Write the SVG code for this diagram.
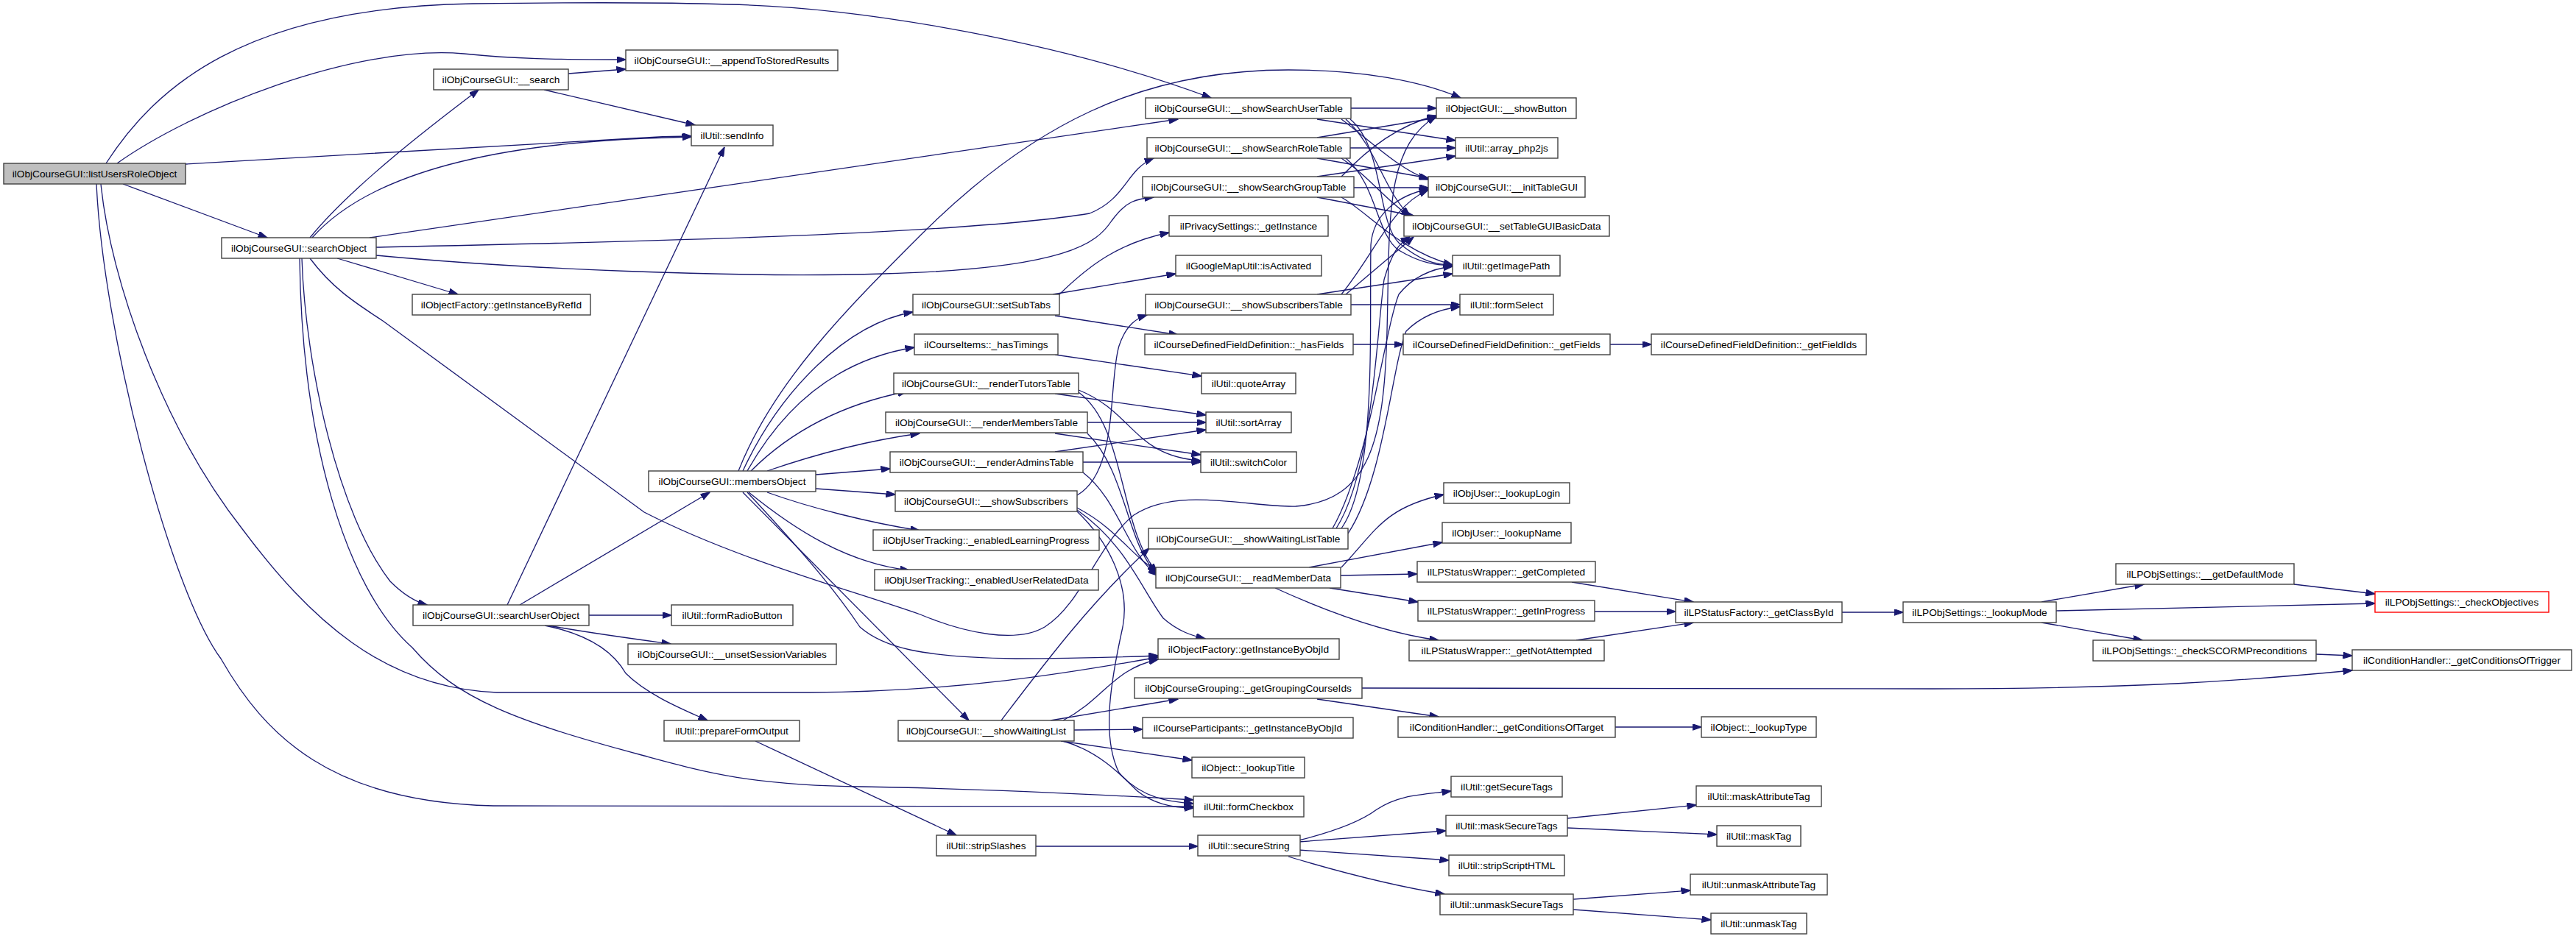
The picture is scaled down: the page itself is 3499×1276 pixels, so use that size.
<svg xmlns="http://www.w3.org/2000/svg" width="3499" height="1276" viewBox="0 0 3499 1276">
<defs>
<marker id="ah" markerWidth="13" markerHeight="9" refX="12.5" refY="4.5" orient="auto" markerUnits="userSpaceOnUse"><path d="M0,0 L13,4.5 L0,9 z" fill="#191970" stroke="#191970" stroke-width="1"/></marker>
<style>
.n rect{fill:#ffffff;stroke:#404040;stroke-width:1.4}
.n text{font-family:"Liberation Sans",Arial,sans-serif;font-size:13.7px;text-anchor:middle;fill:#000000}
.root rect{fill:#bfbfbf}
.red rect{stroke:#ff0000}
.e path{fill:none;stroke:#191970;stroke-width:1.3;marker-end:url(#ah)}
</style>
</defs>
<rect x="0" y="0" width="3499" height="1276" fill="#ffffff"/>
<g id="edges" class="e">
<path d="M144,222 C210,120 330,10 642,5 C800,3 900,3 990,6 C1180,10 1450,60 1645,133"/>
<path d="M159,222 C260,150 480,60 630,73 C700,80 750,81 850,81"/>
<path d="M252,223 L860,188 Q900,185 939,185"/>
<path d="M167,250 L363,323"/>
<path d="M137,250 C150,380 220,580 330,720 C420,840 520,935 675,941 L1100,941 C1300,940 1450,915 1573,893"/>
<path d="M131,250 C140,450 230,800 300,895 C360,1000 450,1090 670,1095 L1621,1096"/>
<path d="M421,323 C480,250 600,160 650,122"/>
<path d="M424,323 C480,260 600,200 875,188 L939,186"/>
<path d="M502,323 L1600,162"/>
<path d="M511,336 C800,330 1300,320 1480,290 C1530,270 1530,230 1567,215"/>
<path d="M511,347 C700,365 1000,378 1200,372 C1450,365 1490,330 1510,300 C1530,272 1545,270 1567,268"/>
<path d="M458,351 L622,400"/>
<path d="M410,351 C415,500 460,700 530,790 C550,810 565,818 580,822"/>
<path d="M407,351 C410,600 470,800 560,880 C620,950 700,980 875,1027 C960,1050 1020,1067 1171,1069 C1350,1072 1500,1080 1621,1087"/>
<path d="M421,351 C450,390 480,410 520,436 L875,696 C1000,760 1150,800 1250,835 C1310,860 1380,875 1419,852 C1470,820 1490,740 1540,700 C1600,660 1700,690 1760,688 C1860,680 1880,600 1884,450 C1888,300 1880,200 1951,158"/>
<path d="M772,100 L850,94"/>
<path d="M739,122 L944,170"/>
<path d="M689,822 L984,200"/>
<path d="M706,822 L964,669"/>
<path d="M800,836 L912,836"/>
<path d="M745,850 C800,860 860,868 911,875"/>
<path d="M740,850 C790,860 830,880 850,915 C880,945 930,965 961,979"/>
<path d="M1026,1007 L1299,1135"/>
<path d="M1407,1150 L1627,1150"/>
<path d="M1764,1142 C1820,1128 1850,1115 1870,1100 C1900,1080 1930,1080 1971,1075"/>
<path d="M1764,1144 L1964,1129"/>
<path d="M1764,1155 L1968,1169"/>
<path d="M1750,1164 C1820,1185 1900,1205 1962,1215"/>
<path d="M2129,1112 L2304,1094"/>
<path d="M2129,1125 L2332,1134"/>
<path d="M2137,1222 L2296,1210"/>
<path d="M2137,1236 L2324,1250"/>
<path d="M1003,640 C1050,520 1150,420 1250,320 C1400,170 1550,95 1750,95 C1850,95 1930,110 1984,133"/>
<path d="M1009,640 C1060,530 1150,440 1240,424"/>
<path d="M1015,640 C1060,560 1130,490 1242,472"/>
<path d="M1020,640 C1070,590 1140,550 1232,532"/>
<path d="M1042,640 C1100,620 1170,600 1249,589"/>
<path d="M1108,645 L1209,637"/>
<path d="M1108,664 L1216,672"/>
<path d="M1042,669 C1100,690 1180,710 1249,721"/>
<path d="M1017,669 C1080,720 1150,765 1235,775"/>
<path d="M1009,669 L1316,979"/>
<path d="M1015,669 C1100,760 1140,810 1168,852 C1200,880 1250,893 1380,895 C1450,895 1520,893 1573,891"/>
<path d="M1439,400 C1480,360 1520,330 1588,316"/>
<path d="M1430,400 L1597,372"/>
<path d="M1433,429 L1600,455"/>
<path d="M1838,468 L1906,468"/>
<path d="M2187,468 L2243,468"/>
<path d="M1433,482 L1632,511"/>
<path d="M1433,535 L1638,564"/>
<path d="M1465,530 C1540,560 1540,620 1631,626"/>
<path d="M1465,533 C1530,580 1520,720 1572,778"/>
<path d="M1477,574 L1638,574"/>
<path d="M1433,589 L1631,618"/>
<path d="M1477,589 C1530,640 1530,740 1572,780"/>
<path d="M1433,614 L1638,584"/>
<path d="M1471,628 L1631,628"/>
<path d="M1471,642 C1520,680 1530,750 1572,782"/>
<path d="M1463,673 C1520,640 1505,520 1520,470 C1530,440 1545,432 1558,428"/>
<path d="M1463,690 C1520,720 1540,760 1572,775"/>
<path d="M1463,693 C1530,740 1550,800 1580,840 C1600,858 1620,864 1637,868"/>
<path d="M1463,695 C1510,740 1535,800 1525,852 C1510,920 1495,1000 1520,1050 C1550,1085 1590,1090 1621,1092"/>
<path d="M1360,979 C1420,900 1480,820 1561,745"/>
<path d="M1444,979 C1500,950 1510,910 1573,896"/>
<path d="M1427,979 L1600,950"/>
<path d="M1459,992 L1552,991"/>
<path d="M1441,1007 L1619,1033"/>
<path d="M1444,1007 C1490,1020 1520,1050 1545,1075 C1570,1095 1600,1098 1621,1098"/>
<path d="M1850,935 L2625,936 C2900,936 3050,925 3195,911"/>
<path d="M1789,950 L1954,974"/>
<path d="M2194,988 L2311,988"/>
<path d="M1822,718 C1870,650 1860,450 1862,333 C1865,290 1900,265 1940,257"/>
<path d="M1815,718 C1865,640 1870,450 1880,380 C1890,345 1900,330 1915,322"/>
<path d="M1810,718 C1860,630 1880,450 1900,400 C1920,375 1945,365 1973,362"/>
<path d="M1831,725 C1880,650 1890,500 1910,450 C1930,430 1955,420 1983,417"/>
<path d="M1822,400 C1870,340 1890,280 1940,258"/>
<path d="M1828,400 L1920,322"/>
<path d="M1789,400 L1973,372"/>
<path d="M1835,414 L1983,414"/>
<path d="M1835,147 L1951,147"/>
<path d="M1789,162 L1977,191"/>
<path d="M1822,162 C1860,190 1900,230 1940,244"/>
<path d="M1828,162 C1870,200 1880,260 1915,293"/>
<path d="M1834,162 C1880,200 1870,300 1900,330 C1930,355 1950,360 1973,360"/>
<path d="M1789,187 L1951,160"/>
<path d="M1834,201 L1977,201"/>
<path d="M1789,215 L1940,242"/>
<path d="M1822,215 C1860,240 1880,270 1915,294"/>
<path d="M1828,215 C1870,250 1870,320 1900,340 C1930,358 1950,360 1973,361"/>
<path d="M1822,240 C1860,200 1900,170 1951,157"/>
<path d="M1789,240 L1977,212"/>
<path d="M1839,255 L1940,255"/>
<path d="M1789,268 L1920,293"/>
<path d="M1822,268 C1860,290 1900,340 1973,360"/>
<path d="M1822,771 C1870,720 1880,690 1961,672"/>
<path d="M1778,771 L1959,737"/>
<path d="M1821,782 L1925,780"/>
<path d="M1806,799 L1926,818"/>
<path d="M1732,799 C1800,830 1880,860 1954,870"/>
<path d="M2135,791 L2300,818"/>
<path d="M2166,831 L2276,831"/>
<path d="M2141,870 L2300,846"/>
<path d="M2502,832 L2585,832"/>
<path d="M2773,818 L2912,794"/>
<path d="M2793,830 L3226,820"/>
<path d="M2773,846 L2910,870"/>
<path d="M3116,794 L3226,807"/>
<path d="M3146,889 L3195,891"/>
</g>
<g id="n_lur" class="n root"><rect x="5" y="222" width="247" height="28"/><text x="128.5" y="241">ilObjCourseGUI::listUsersRoleObject</text></g>
<g id="n_search" class="n"><rect x="589" y="94" width="183" height="28"/><text x="680.5" y="113">ilObjCourseGUI::__search</text></g>
<g id="n_append" class="n"><rect x="850" y="68" width="288" height="28"/><text x="994" y="87">ilObjCourseGUI::__appendToStoredResults</text></g>
<g id="n_sendinfo" class="n"><rect x="939" y="170" width="111" height="28"/><text x="994.5" y="189">ilUtil::sendInfo</text></g>
<g id="n_searchobj" class="n"><rect x="301" y="323" width="210" height="28"/><text x="406" y="342">ilObjCourseGUI::searchObject</text></g>
<g id="n_refid" class="n"><rect x="560" y="400" width="242" height="28"/><text x="681" y="419">ilObjectFactory::getInstanceByRefId</text></g>
<g id="n_suo" class="n"><rect x="561" y="822" width="239" height="28"/><text x="680.5" y="841">ilObjCourseGUI::searchUserObject</text></g>
<g id="n_radio" class="n"><rect x="912" y="822" width="165" height="28"/><text x="994.5" y="841">ilUtil::formRadioButton</text></g>
<g id="n_unset" class="n"><rect x="853" y="875" width="283" height="28"/><text x="994.5" y="894">ilObjCourseGUI::__unsetSessionVariables</text></g>
<g id="n_prep" class="n"><rect x="902" y="979" width="184" height="28"/><text x="994" y="998">ilUtil::prepareFormOutput</text></g>
<g id="n_strip" class="n"><rect x="1272" y="1135" width="135" height="28"/><text x="1339.5" y="1154">ilUtil::stripSlashes</text></g>
<g id="n_members" class="n"><rect x="881" y="640" width="227" height="28"/><text x="994.5" y="659">ilObjCourseGUI::membersObject</text></g>
<g id="n_subtabs" class="n"><rect x="1240" y="400" width="199" height="28"/><text x="1339.5" y="419">ilObjCourseGUI::setSubTabs</text></g>
<g id="n_timings" class="n"><rect x="1242" y="454" width="195" height="28"/><text x="1339.5" y="473">ilCourseItems::_hasTimings</text></g>
<g id="n_tutors" class="n"><rect x="1214" y="507" width="251" height="28"/><text x="1339.5" y="526">ilObjCourseGUI::__renderTutorsTable</text></g>
<g id="n_membtab" class="n"><rect x="1203" y="560" width="274" height="28"/><text x="1340" y="579">ilObjCourseGUI::__renderMembersTable</text></g>
<g id="n_admins" class="n"><rect x="1209" y="614" width="262" height="28"/><text x="1340" y="633">ilObjCourseGUI::__renderAdminsTable</text></g>
<g id="n_showsubs" class="n"><rect x="1216" y="667" width="247" height="28"/><text x="1339.5" y="686">ilObjCourseGUI::__showSubscribers</text></g>
<g id="n_elp" class="n"><rect x="1186" y="720" width="307" height="28"/><text x="1339.5" y="739">ilObjUserTracking::_enabledLearningProgress</text></g>
<g id="n_eurd" class="n"><rect x="1188" y="774" width="304" height="28"/><text x="1340" y="793">ilObjUserTracking::_enabledUserRelatedData</text></g>
<g id="n_waiting" class="n"><rect x="1220" y="979" width="239" height="28"/><text x="1339.5" y="998">ilObjCourseGUI::__showWaitingList</text></g>
<g id="n_sut" class="n"><rect x="1556" y="133" width="279" height="28"/><text x="1696" y="152">ilObjCourseGUI::__showSearchUserTable</text></g>
<g id="n_srt" class="n"><rect x="1558" y="187" width="276" height="28"/><text x="1696" y="206">ilObjCourseGUI::__showSearchRoleTable</text></g>
<g id="n_sgt" class="n"><rect x="1552" y="240" width="287" height="28"/><text x="1696" y="259">ilObjCourseGUI::__showSearchGroupTable</text></g>
<g id="n_priv" class="n"><rect x="1588" y="293" width="216" height="28"/><text x="1696" y="312">ilPrivacySettings::_getInstance</text></g>
<g id="n_gmap" class="n"><rect x="1597" y="347" width="198" height="28"/><text x="1696" y="366">ilGoogleMapUtil::isActivated</text></g>
<g id="n_subtab" class="n"><rect x="1556" y="400" width="279" height="28"/><text x="1696" y="419">ilObjCourseGUI::__showSubscribersTable</text></g>
<g id="n_hasf" class="n"><rect x="1555" y="454" width="283" height="28"/><text x="1696.5" y="473">ilCourseDefinedFieldDefinition::_hasFields</text></g>
<g id="n_quote" class="n"><rect x="1632" y="507" width="128" height="28"/><text x="1696" y="526">ilUtil::quoteArray</text></g>
<g id="n_sort" class="n"><rect x="1638" y="560" width="116" height="28"/><text x="1696" y="579">ilUtil::sortArray</text></g>
<g id="n_switch" class="n"><rect x="1631" y="614" width="130" height="28"/><text x="1696" y="633">ilUtil::switchColor</text></g>
<g id="n_wlt" class="n"><rect x="1560" y="718" width="271" height="28"/><text x="1695.5" y="737">ilObjCourseGUI::__showWaitingListTable</text></g>
<g id="n_read" class="n"><rect x="1570" y="771" width="251" height="28"/><text x="1695.5" y="790">ilObjCourseGUI::__readMemberData</text></g>
<g id="n_objid" class="n"><rect x="1573" y="868" width="246" height="28"/><text x="1696" y="887">ilObjectFactory::getInstanceByObjId</text></g>
<g id="n_group" class="n"><rect x="1541" y="921" width="309" height="28"/><text x="1695.5" y="940">ilObjCourseGrouping::_getGroupingCourseIds</text></g>
<g id="n_cpart" class="n"><rect x="1552" y="975" width="286" height="28"/><text x="1695" y="994">ilCourseParticipants::_getInstanceByObjId</text></g>
<g id="n_ltitle" class="n"><rect x="1619" y="1029" width="153" height="28"/><text x="1695.5" y="1048">ilObject::_lookupTitle</text></g>
<g id="n_check" class="n"><rect x="1621" y="1082" width="150" height="28"/><text x="1696" y="1101">ilUtil::formCheckbox</text></g>
<g id="n_secure" class="n"><rect x="1627" y="1135" width="139" height="28"/><text x="1696.5" y="1154">ilUtil::secureString</text></g>
<g id="n_button" class="n"><rect x="1951" y="133" width="190" height="28"/><text x="2046" y="152">ilObjectGUI::__showButton</text></g>
<g id="n_php2js" class="n"><rect x="1977" y="187" width="139" height="28"/><text x="2046.5" y="206">ilUtil::array_php2js</text></g>
<g id="n_init" class="n"><rect x="1940" y="240" width="213" height="28"/><text x="2046.5" y="259">ilObjCourseGUI::__initTableGUI</text></g>
<g id="n_basic" class="n"><rect x="1907" y="293" width="279" height="28"/><text x="2046.5" y="312">ilObjCourseGUI::__setTableGUIBasicData</text></g>
<g id="n_img" class="n"><rect x="1973" y="347" width="146" height="28"/><text x="2046" y="366">ilUtil::getImagePath</text></g>
<g id="n_fsel" class="n"><rect x="1983" y="400" width="127" height="28"/><text x="2046.5" y="419">ilUtil::formSelect</text></g>
<g id="n_getf" class="n"><rect x="1906" y="454" width="281" height="28"/><text x="2046.5" y="473">ilCourseDefinedFieldDefinition::_getFields</text></g>
<g id="n_getfi" class="n"><rect x="2243" y="454" width="292" height="28"/><text x="2389" y="473">ilCourseDefinedFieldDefinition::_getFieldIds</text></g>
<g id="n_login" class="n"><rect x="1961" y="656" width="171" height="28"/><text x="2046.5" y="675">ilObjUser::_lookupLogin</text></g>
<g id="n_lname" class="n"><rect x="1959" y="710" width="175" height="28"/><text x="2046.5" y="729">ilObjUser::_lookupName</text></g>
<g id="n_compl" class="n"><rect x="1925" y="763" width="242" height="28"/><text x="2046" y="782">ilLPStatusWrapper::_getCompleted</text></g>
<g id="n_inprog" class="n"><rect x="1926" y="816" width="240" height="28"/><text x="2046" y="835">ilLPStatusWrapper::_getInProgress</text></g>
<g id="n_notatt" class="n"><rect x="1914" y="870" width="265" height="28"/><text x="2046.5" y="889">ilLPStatusWrapper::_getNotAttempted</text></g>
<g id="n_class" class="n"><rect x="2276" y="818" width="226" height="28"/><text x="2389" y="837">ilLPStatusFactory::_getClassById</text></g>
<g id="n_lmode" class="n"><rect x="2585" y="818" width="208" height="28"/><text x="2689" y="837">ilLPObjSettings::_lookupMode</text></g>
<g id="n_defmode" class="n"><rect x="2874" y="766" width="242" height="28"/><text x="2995" y="785">ilLPObjSettings::__getDefaultMode</text></g>
<g id="n_checkobj" class="n red"><rect x="3226" y="804" width="236" height="28"/><text x="3344" y="823">ilLPObjSettings::_checkObjectives</text></g>
<g id="n_scorm" class="n"><rect x="2843" y="870" width="303" height="28"/><text x="2994.5" y="889">ilLPObjSettings::_checkSCORMPreconditions</text></g>
<g id="n_trigger" class="n"><rect x="3195" y="883" width="298" height="28"/><text x="3344" y="902">ilConditionHandler::_getConditionsOfTrigger</text></g>
<g id="n_target" class="n"><rect x="1899" y="974" width="295" height="28"/><text x="2046.5" y="993">ilConditionHandler::_getConditionsOfTarget</text></g>
<g id="n_ltype" class="n"><rect x="2311" y="974" width="156" height="28"/><text x="2389" y="993">ilObject::_lookupType</text></g>
<g id="n_gst" class="n"><rect x="1971" y="1055" width="151" height="28"/><text x="2046.5" y="1074">ilUtil::getSecureTags</text></g>
<g id="n_mst" class="n"><rect x="1964" y="1108" width="165" height="28"/><text x="2046.5" y="1127">ilUtil::maskSecureTags</text></g>
<g id="n_ssh" class="n"><rect x="1968" y="1162" width="157" height="28"/><text x="2046.5" y="1181">ilUtil::stripScriptHTML</text></g>
<g id="n_ust" class="n"><rect x="1956" y="1215" width="181" height="28"/><text x="2046.5" y="1234">ilUtil::unmaskSecureTags</text></g>
<g id="n_mat" class="n"><rect x="2304" y="1068" width="170" height="28"/><text x="2389" y="1087">ilUtil::maskAttributeTag</text></g>
<g id="n_mtag" class="n"><rect x="2332" y="1122" width="114" height="28"/><text x="2389" y="1141">ilUtil::maskTag</text></g>
<g id="n_uat" class="n"><rect x="2296" y="1188" width="186" height="28"/><text x="2389" y="1207">ilUtil::unmaskAttributeTag</text></g>
<g id="n_utag" class="n"><rect x="2324" y="1241" width="130" height="28"/><text x="2389" y="1260">ilUtil::unmaskTag</text></g>
</svg>
